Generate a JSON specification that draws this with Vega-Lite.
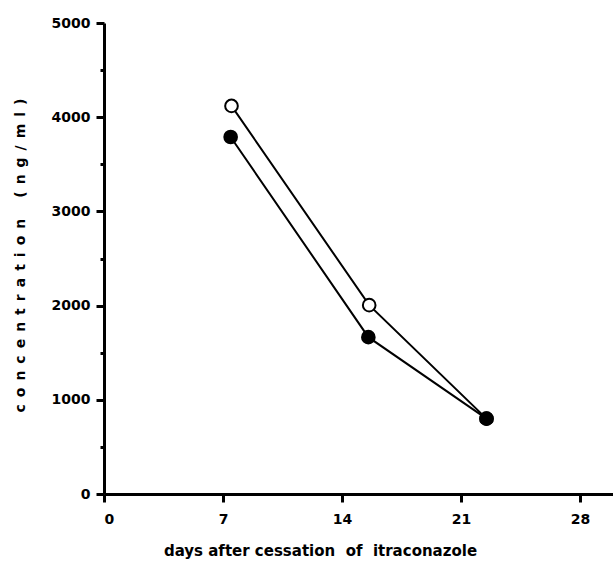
{
  "$schema": "https://vega.github.io/schema/vega-lite/v6.json",
  "autosize": "none",
  "width": 510,
  "height": 471,
  "padding": {"left": 104, "top": 23, "right": 0, "bottom": 67},
  "background": "white",
  "config": {
    "view": {"stroke": null},
    "font": "DejaVu Sans",
    "axis": {
      "grid": false,
      "domainColor": "black",
      "domainWidth": 3,
      "tickColor": "black",
      "tickWidth": 3,
      "tickSize": 8,
      "labelFont": "DejaVu Sans",
      "labelFontWeight": "bold",
      "labelFontSize": 14,
      "labelColor": "black",
      "titleFont": "DejaVu Sans",
      "titleFontWeight": "bold",
      "titleFontSize": 14,
      "titleColor": "black"
    }
  },
  "data": {
    "values": [
      {"day": 7.5, "conc": 4120, "series": "open"},
      {"day": 15.6, "conc": 2005, "series": "open"},
      {"day": 22.5, "conc": 800, "series": "open"},
      {"day": 7.45, "conc": 3790, "series": "filled"},
      {"day": 15.55, "conc": 1665, "series": "filled"},
      {"day": 22.5, "conc": 800, "series": "filled"}
    ]
  },
  "encoding": {
    "x": {
      "field": "day",
      "type": "quantitative",
      "scale": {"domain": [0, 30], "nice": false},
      "axis": {
        "values": [0, 7, 14, 21, 28],
        "labelPadding": 10,
        "title": "days after cessation\u00a0\u00a0of\u00a0\u00a0itraconazole",
        "titleFontSize": 15,
        "titlePadding": 17,
        "titleX": 216,
        "titleAlign": "center"
      }
    },
    "y": {
      "field": "conc",
      "type": "quantitative",
      "scale": {"domain": [0, 5000], "nice": false},
      "axis": {
        "values": [0, 500, 1000, 1500, 2000, 2500, 3000, 3500, 4000, 4500, 5000],
        "format": "d",
        "labelExpr": "datum.value % 1000 === 0 ? datum.label : ''",
        "labelPadding": 6,
        "tickSize": {"condition": {"test": "datum.value % 1000 === 0", "value": 8}, "value": 4},
        "title": "c\u2002o\u2002n\u2002c\u2002e\u2002n\u2002t\u2002r\u2002a\u2002t\u2002i\u2002o\u2002n\u2002\u2002\u2002(\u2002n\u2002g\u2002/\u2002m\u2002l\u2002)",
        "titleAngle": -90,
        "titleX": -84,
        "titleY": 232,
        "titleAlign": "center",
        "titleBaseline": "middle"
      }
    }
  },
  "layer": [
    {
      "mark": {"type": "line", "color": "black", "strokeWidth": 2},
      "encoding": {"detail": {"field": "series"}}
    },
    {
      "mark": {"type": "point", "filled": false, "stroke": "black", "strokeWidth": 2, "size": 160, "shape": "circle", "opacity": 1},
      "encoding": {
        "fill": {
          "field": "series",
          "type": "nominal",
          "scale": {"domain": ["open", "filled"], "range": ["white", "black"]},
          "legend": null
        }
      }
    }
  ]
}
